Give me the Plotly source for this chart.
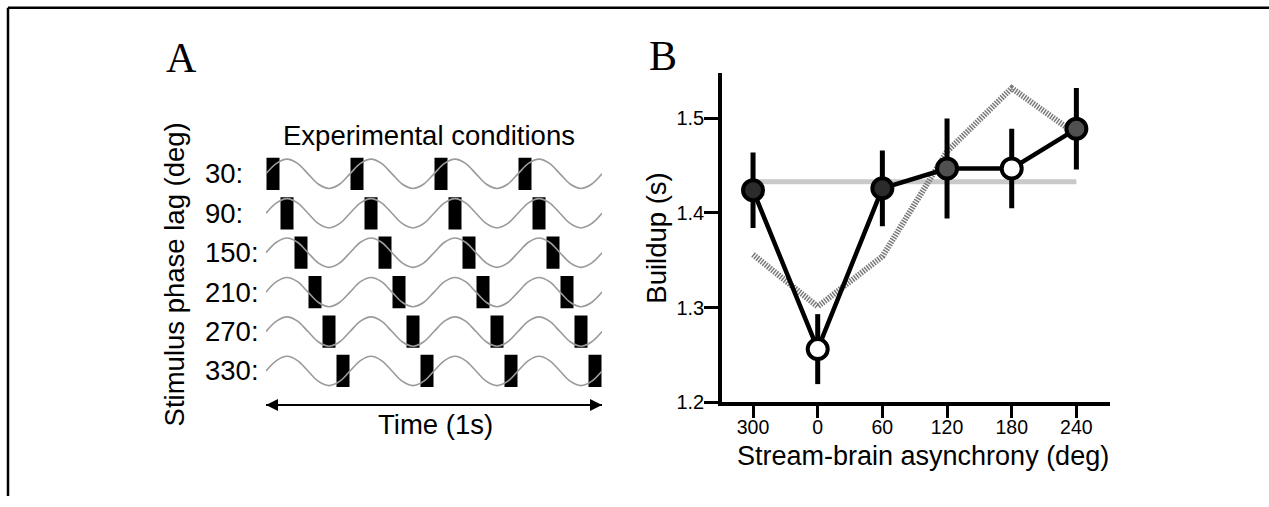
import numpy as np
import plotly.graph_objects as go

W, H = 1269, 507

# ---------------- Panel A data ----------------
phase_lags = [30, 90, 150, 210, 270, 330]
row_labels = ["30:", "90:", "150:", "210:", "270:", "330:"]
stim_freq_hz = 4
n_cycles = 4
wave_shape = [0, 0.71, 1, 0.71, 0, -0.71, -1, -0.71]

# ---------------- Panel B data ----------------
asynchrony = ["300", "0", "60", "120", "180", "240"]
buildup = [1.424, 1.256, 1.426, 1.447, 1.447, 1.489]
buildup_err = [0.040, 0.037, 0.040, 0.053, 0.042, 0.043]
marker_fill = ["#2b2b2b", "#ffffff", "#2b2b2b", "#505050", "#ffffff", "#505050"]
sine_fit = [1.356, 1.301, 1.354, 1.465, 1.532, 1.483]
mean_buildup = 1.433
y_ticks = [1.2, 1.3, 1.4, 1.5]
y_tick_text = ["1.2", "1.3", "1.4", "1.5"]


def px(x):
    return x / W


def py(y):
    return 1 - y / H


FONT = "Liberation Sans, Arial, sans-serif"
SERIF = "Liberation Serif, Times New Roman, serif"

# ---------------- Panel A geometry (layout, pixels) ----------------
ROW0, ROW_STEP = 177.7, 40.3
A_X0, A_X1 = 266, 602
A_Y0, A_Y1 = 120, 440
wave_amp = 15.0 / ROW_STEP
rect_half = 16.5 / ROW_STEP
rect_w = 13.0 / (A_X1 - A_X0)
arrow_row = (414 - ROW0) / ROW_STEP

fig = go.Figure()

# sine waves
n_pts = len(wave_shape) * n_cycles + 1
t = np.arange(n_pts) / (len(wave_shape) * stim_freq_hz)
shape_full = list(wave_shape) * n_cycles + [wave_shape[0]]
for i, lag in enumerate(phase_lags):
    fig.add_trace(go.Scatter(
        x=t, y=[i - wave_amp * s for s in shape_full],
        mode="lines", line=dict(color="#9a9a9a", width=1.6, shape="spline", smoothing=1.0),
        xaxis="x", yaxis="y", showlegend=False, hoverinfo="skip"))

# stimulus rectangles
bx, bb, bh = [], [], []
for i, lag in enumerate(phase_lags):
    for k in range(n_cycles):
        bx.append((lag / 360 + k) / stim_freq_hz)
        bb.append(i - rect_half)
        bh.append(2 * rect_half)
fig.add_trace(go.Bar(x=bx, y=bh, base=bb, width=rect_w,
                     marker=dict(color="black", line=dict(width=0)),
                     xaxis="x", yaxis="y", showlegend=False, hoverinfo="skip"))

# time arrow
fig.add_trace(go.Scatter(
    x=[0, 1], y=[arrow_row, arrow_row], mode="lines+markers",
    line=dict(color="black", width=2),
    marker=dict(symbol=["arrow-left", "arrow-right"], size=12, color="black"),
    xaxis="x", yaxis="y", showlegend=False, hoverinfo="skip", cliponaxis=False))

# ---------------- Panel B ----------------
fig.add_trace(go.Scatter(
    x=[asynchrony[0], asynchrony[-1]], y=[mean_buildup, mean_buildup],
    mode="lines", line=dict(color="#c9c9c9", width=5),
    xaxis="x2", yaxis="y2", showlegend=False, hoverinfo="skip"))
fig.add_trace(go.Scatter(
    x=asynchrony, y=sine_fit, mode="lines",
    line=dict(color="#7a7a7a", width=6, dash="1.5px,1.2px"),
    xaxis="x2", yaxis="y2", showlegend=False, hoverinfo="skip"))
fig.add_trace(go.Scatter(
    x=asynchrony, y=buildup, mode="markers",
    marker=dict(size=1, color="rgba(0,0,0,0)"),
    error_y=dict(type="data", array=buildup_err, color="black", thickness=5, width=0),
    xaxis="x2", yaxis="y2", showlegend=False, hoverinfo="skip"))
fig.add_trace(go.Scatter(
    x=asynchrony, y=buildup, mode="lines+markers",
    line=dict(color="black", width=4.5),
    marker=dict(size=20, color=marker_fill, line=dict(color="black", width=4)),
    xaxis="x2", yaxis="y2", showlegend=False, hoverinfo="skip", cliponaxis=False))


def ann(text, x, y, size=27.5, family=FONT, angle=0, xanchor="center", yref="paper"):
    return dict(text=text, x=x, y=y, xref="paper", yref=yref, showarrow=False,
                xanchor=xanchor, yanchor="middle", textangle=angle,
                font=dict(family=family, size=size, color="black"))


annotations = [
    ann("A", px(181), py(59), size=42, family=SERIF),
    ann("B", px(663), py(57), size=42, family=SERIF),
    ann("Experimental conditions", px(429), py(138)),
    ann("Time (1s)", px(435), py(434)),
    ann("Stimulus phase lag (deg)", px(174), py(280.5), angle=-90),
    ann("Stream-brain asynchrony (deg)", px(923), py(466), size=27),
    ann("Buildup (s)", px(657), py(244), angle=-90),
]
for i, lab in enumerate(row_labels):
    annotations.append(ann(lab, px(203), i, xanchor="left", yref="y"))

shapes = [
    dict(type="line", xref="paper", yref="paper", x0=px(8), y0=py(8), x1=1, y1=py(8),
         line=dict(color="black", width=2.5)),
    dict(type="line", xref="paper", yref="paper", x0=px(8), y0=py(8), x1=px(8), y1=0,
         line=dict(color="black", width=2.5)),
]

fig.update_layout(
    width=W, height=H, margin=dict(l=0, r=0, t=0, b=0),
    paper_bgcolor="white", plot_bgcolor="white",
    font=dict(family=FONT, color="black"),
    showlegend=False, barmode="overlay",
    annotations=annotations, shapes=shapes,
    xaxis=dict(domain=[px(A_X0), px(A_X1)], range=[0, 1], visible=False,
               anchor="y", fixedrange=True),
    yaxis=dict(domain=[py(A_Y1), py(A_Y0)],
               range=[(A_Y1 - ROW0) / ROW_STEP, (A_Y0 - ROW0) / ROW_STEP],
               visible=False, anchor="x", fixedrange=True),
    xaxis2=dict(domain=[px(722), px(1110)], type="category",
                categoryorder="array", categoryarray=asynchrony,
                range=[-0.48, 5.52], anchor="y2",
                showline=True, linecolor="black", linewidth=3.5,
                ticks="outside", ticklen=12, tickwidth=3, tickcolor="black",
                ticklabelstandoff=-7,
                tickfont=dict(family=FONT, size=19.5, color="black"),
                showgrid=False, zeroline=False, fixedrange=True),
    yaxis2=dict(domain=[py(411), py(75)], range=[1.2, 1.5476], anchor="x2",
                tickvals=y_ticks, ticktext=y_tick_text,
                showline=True, linecolor="black", linewidth=3.5,
                ticks="outside", ticklen=14, tickwidth=3, tickcolor="black",
                ticklabelstandoff=-4,
                tickfont=dict(family=FONT, size=20, color="black"),
                showgrid=False, zeroline=False, fixedrange=True),
)

fig.write_html("out.html")
